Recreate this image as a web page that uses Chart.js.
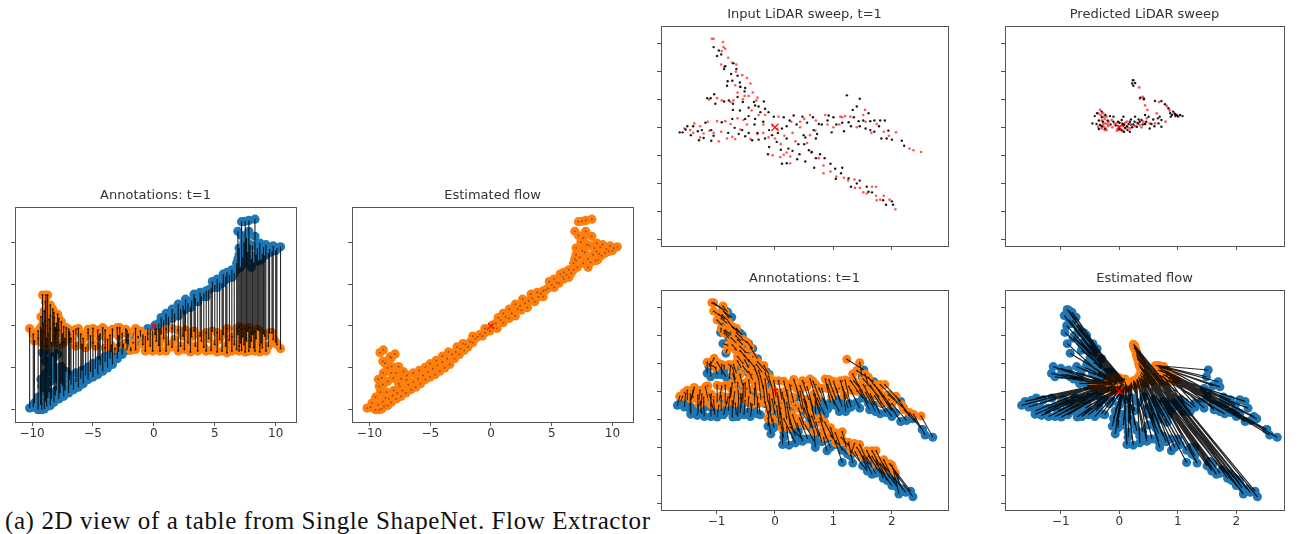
<!DOCTYPE html>
<html><head><meta charset="utf-8">
<script src="https://cdn.jsdelivr.net/npm/chart.js@4"></script>
<style>
html,body{margin:0;padding:0;background:#fff;width:1306px;height:534px;overflow:hidden}
canvas{position:absolute;filter:blur(0.45px)}
#cap{position:absolute;left:5px;top:507px;font:25px "Liberation Serif",serif;color:#111;white-space:nowrap;letter-spacing:.6px}
</style></head><body>
<div id="cap">(a) 2D view of a table from Single ShapeNet. Flow Extractor</div>
<script>
// ---- table view (left panels)
const tableX=[-10.2,-9.9,-9.5,-9.2,-9.0,-8.8,-8.5,-8.2,-7.8,-7.4,-7.0,-9.5,-9.1,-8.6,-8.0,-7.5,-6.6,-6.2,-5.8,-5.4,-5.0,-4.6,-4.2,-3.8,-3.4,-3.0,-6.4,-5.9,-5.4,-5.0,-4.5,-4.0,-3.5,-2.8,-9.27,-8.86,-9.14,-8.72,-8.3,-7.9,-8.18,-7.6,-7.2,-8.86,-8.04,-6.94,-2.6,-2.3,-2.2,-1.9,-1.5,-1.5,-1.1,-0.7,-0.5,-0.1,0.1,0.5,0.6,1.0,1.0,1.5,1.5,2.0,2.0,2.5,2.6,3.0,3.3,3.6,3.8,4.3,4.3,4.7,4.8,5.2,5.2,5.6,5.7,6.0,6.0,6.4,6.4,6.8,6.8,7.0,7.0,6.9,7.2,7.5,7.5,7.8,7.8,8.0,8.3,8.3,8.5,8.7,9.0,9.2,9.5,9.8,10.1,10.4,7.6,8.8,
-6.8,-6.4,-6.0,-5.6,-5.2,-4.8,-4.4,-4.0,-3.6,-3.2,-2.9,-2.5,-2.1,-1.7,-1.3,-.9,-.5,-.3,.2,.4,.8,1.2,1.7,2.2,2.4,2.8,3.1,3.4,3.9,4.1,4.5,5.0,5.4,5.9,6.2,6.6,
-9.8,-9.3,-8.9,-8.7,-8.4,-8.1,-7.7,-7.3,-9.2,-8.9,-9.0,-8.5,-8.2,-7.8,-7.4,-7.6,-6.9,-8.5,-8.9,-8.2,
6.9,7.1,7.3,7.4,7.7,7.9,8.0,8.2,8.4,8.6,8.9,9.1,9.4,9.7,10.0,8.1,7.2,7.6,8.7,7.0];
const tableBlueY=[-9.8,-9.7,-10.0,-10.0,-9.9,-9.6,-9.5,-9.1,-8.7,-8.4,-8.0,-8.5,-7.9,-7.9,-7.7,-7.2,-7.6,-7.3,-6.9,-6.4,-6.1,-5.8,-5.4,-5.0,-4.6,-3.9,-5.6,-5.3,-4.9,-4.5,-4.1,-3.6,-3.1,-2.5,-6.36,-2.86,-3.18,-4.45,-3.66,-3.34,-4.85,-4.85,-5.45,-5.6,-6.24,-6.44,-3.4,-2.1,-2.9,-2.5,-2.0,-1.2,-1.3,-1.2,-0.3,-0.6,0.1,-0.3,1.0,0.4,1.5,0.9,2.0,1.2,2.6,1.9,3.2,2.2,3.8,2.9,4.0,4.2,3.5,4.5,5.3,4.6,5.6,5.1,6.2,5.6,6.4,6.7,5.8,6.7,7.5,7.8,9.3,11.3,12.45,9.0,12.5,12.6,11.3,8.0,12.75,10.7,9.3,8.9,9.4,9.7,9.2,9.55,9.3,9.45,7.5,7.9,
-7.0,-6.7,-6.3,-5.9,-5.5,-5.1,-4.7,-4.3,-3.9,-3.4,-3.1,-2.7,-2.2,-1.9,-1.5,-1.0,-.8,-.4,-.2,.3,.7,1.1,1.5,2.0,2.4,2.7,3.0,3.3,3.5,3.9,4.3,4.9,5.2,5.9,6.1,6.3,
-9.2,-9.4,-9.0,-8.6,-8.7,-8.3,-8.0,-7.7,-7.2,-7.0,-6.2,-6.6,-5.6,-5.6,-6.3,-6.9,-5.9,-5.0,-4.2,-3.8,
8.0,7.0,8.2,10.0,8.8,9.7,7.0,7.6,8.5,7.8,8.6,8.4,8.7,8.9,9.0,9.6,10.8,10.5,9.9,8.5];
const tableOrangeY=[-0.3,-1.0,-1.5,-2.0,-0.8,-1.5,-0.3,-1.2,-0.5,-2.0,-0.4,-0.6,0.3,0.8,0.3,-1.0,-0.6,-0.3,-1.5,-0.4,-2.0,-0.5,-0.2,-1.6,-0.4,-0.2,-0.4,-2.2,-0.8,-0.3,-1.2,-0.5,-2.3,-0.2,1.1,3.7,3.7,3.7,2.0,1.4,1.0,0.5,-0.2,0.0,-0.5,-0.7,-0.9,-0.4,-0.6,-2.9,-0.3,-2.8,-0.6,-3.0,-0.9,-3.0,-1.0,-3.0,-0.9,-3.0,-0.4,-2.5,-0.3,-3.0,-0.5,-2.8,-0.5,-3.1,-0.6,-3.0,-1.2,-0.8,-3.0,-2.9,-0.6,-3.1,-0.8,-3.0,-1.0,-3.2,-0.3,-3.0,-1.3,-0.3,-2.8,-0.1,-3.0,-0.6,-2.9,-0.3,-3.1,-0.2,-3.0,-1.8,-0.7,-3.0,-0.4,-3.1,-0.9,-3.0,-0.8,-1.6,-2.2,-2.7,-1.5,-2.0,
-1.5,-2.4,-1.0,-2.6,-1.2,-2.4,-1.0,-2.6,-1.1,-2.7,-1.2,-2.2,-1.0,-2.0,-1.3,-2.2,-1.6,-2.4,-1.8,-2.3,-1.5,-2.2,-1.6,-2.4,-1.2,-2.0,-1.3,-2.4,-1.8,-2.5,-1.5,-2.2,-1.6,-2.4,-1.7,-2.2,
-1.8,-0.2,-2.4,-1.0,-2.0,-0.2,-2.2,-1.5,-0.5,.6,1.8,1.2,1.6,.9,-.1,-2.0,-1.0,2.5,2.9,.2,
-1.0,-2.0,-1.3,-2.2,-.6,-2.5,-.8,-2.6,-1.5,-.5,-2.6,-1.2,-2.4,-.8,-1.9,-1.0,-.4,-1.8,-2.3,-2.4];
// ---- input LiDAR sweep (black and red dots); together they are the orange cloud
const blackX=[-1.05,-.99,-.96,-.92,-.87,-.85,-.71,-.66,-.64,-.73,-.82,-.81,-.59,-.52,-.51,-.64,-1.04,-1.16,-1.10,-1.02,-.87,-.79,-.72,-.72,-.36,-.34,-.28,-.19,-.17,-.25,-.11,
-1.63,-1.58,-1.50,-1.53,-1.44,-1.32,-1.30,-1.22,-1.19,-1.09,-1.09,-.91,-.73,-.69,-.56,-.51,-.39,-.51,-.34,
-.28,-.17,-.05,.03,.12,-.02,.15,.32,.47,.49,.66,.75,.92,.72,.97,1.18,
1.23,1.45,1.40,1.33,1.26,1.43,1.51,1.63,1.70,1.80,1.88,1.63,1.94,1.91,2.17,2.21,
-.12,.23,.40,.58,.63,.77,.20,.12,.38,.52,.67,.95,1.03,1.13,1.04,1.26,1.30,1.57,1.66,2.0,2.02];
const blackY=[1.43,1.27,1.37,1.30,1.04,1.09,1.14,1.04,.92,.83,.74,.82,.72,.64,.70,.54,.59,.52,.52,.42,.46,.48,.42,.31,.45,.39,.37,.46,.33,.27,.27,
-.09,-.09,.02,-.04,-.14,-.07,-.23,-.19,.08,-.05,-.24,.09,.15,-.01,-.05,-.16,-.23,.15,.15,
-.22,-.2,-.14,-.26,-.02,.19,.18,.21,.19,-.14,-.05,.06,.21,-.12,-.09,-.07,
.57,.51,.37,.31,.09,.11,.12,.11,.12,.12,.12,-.05,-.06,-.2,-.24,-.33,
-.48,-.38,-.3,-.41,-.44,-.48,-.64,-.65,-.57,-.61,-.72,-.65,-.74,-.82,-.92,-.91,-1.06,-1.06,-1.16,-1.32,-1.38];
const redX=[-1.08,-.89,-.85,-.92,-.80,-.56,-.42,-.30,-.52,-1.13,-.99,-1.45,-1.28,-.96,-.42,.15,-.04,.26,.83,.95,1.36,1.45,1.51,1.73,1.74,1.86,2.06,1.96,2.5,2.37,2.3,2.07,1.86,1.74,1.54,1.12,.86,.43,.69,
-1.05,-.88,-.91,-.87,-.73,-.66,-.67,-.48,-.64,-.45,-.32,-.91,-.71,-.76,-1.38,-1.28,-1.22,-1.12,-.99,-.92,-.85,-.76,-.73,-.68,-.64,-.54,-.59,-.28,-.17,.06,.16,-.11,.6,1.2,1.29,1.51,.6,.43,-.04,.04,.09,.26,.83,1.37,1.57,1.66,1.73,1.8];
const redY=[1.58,1.52,1.40,1.12,1.24,.93,.78,.53,.56,.49,.52,-.05,-.18,-.25,-.21,-.49,-.5,-.64,-.82,-.79,-.93,-1.08,-1.16,-1.22,-1.30,-1.22,-1.46,-1.29,-.44,-.41,-.38,-.09,-.08,.06,.31,.19,.22,.1,-.06,
1.58,1.43,1.36,1.08,1.15,1.12,.99,.88,.62,.56,.48,.48,.48,.45,.07,.02,-.11,-.06,.11,-.08,.11,.06,-.17,-.21,.16,.13,-.04,.22,.22,.19,-.15,-.18,.22,.2,.19,.22,-.14,0,.03,-.03,-.53,-.52,-.68,-1.08,-1.18,-1.06,-1.06,-1.29];
const extraBlackX=[-.75,-.6,-.55,-.45,-.6,-.45,-.35,-.2,-.1,.05,.2,.1,.3,.42,.5,.7,.85,1.15,.25,.2,.37,.55,.65,.8,.9,1.05,1.0,1.15,1.3,1.45,1.55,1.7,1.78,1.82,2.0,1.35,1.6,-1.4,-1.25,-1.05,-.8,-.62,-.45,-.3,-.1,.52,.7,1.4,1.6,1.85,1.9,1.45];
const extraBlackY=[.95,.8,.45,.35,.3,.2,.05,.1,-.05,-.1,-.2,-.4,-.42,-.48,-.3,-.55,-.55,-.72,.12,.02,.05,.08,.18,.05,.12,.05,.18,.08,.02,.02,-.02,-.08,.02,-.2,-.22,.18,.25,.02,-.05,-.15,-.1,-.12,-.1,-.1,-.35,-.18,-.2,-1.0,-1.15,-1.3,-1.38,-.95];
const extraRedX=[-.6,-.55,-.68,-.38,-.4,-.48,-.3,-.2,.0,.1,.3,.35,.55,.62,.75,1.05,1.18,1.25,.9,1.0,1.1,1.4,1.55,1.65,1.95,1.15,-1.4,-1.15,-1.05,-.82,-1.55,.2,.5,.28,.7,-.2];
const extraRedY=[.72,.5,.75,.62,.3,.05,-.12,-.1,-.2,-.3,-.1,-.25,-.28,-.45,-.55,-.88,-.9,-.95,.05,.0,.05,.0,.1,-.1,-.15,.18,-.1,.1,-.1,-.2,-.02,-.45,.15,.1,.12,.05];
// ---- ground-truth positions paired, in order, with black, red and extra black
const planeX=[-.94,-.90,-.86,-.82,-.79,-.75,-.60,-.56,-.55,-.65,-.84,-.89,-.50,-.44,-.44,-.58,-1.13,-1.16,-1.10,-.99,-.87,-.73,-.68,-.68,-.30,-.28,-.22,-.10,-.10,-.20,-.05,
-1.67,-1.61,-1.50,-1.55,-1.44,-1.33,-1.33,-1.21,-1.15,-1.10,-1.10,-.95,-.76,-.72,-.60,-.53,-.42,-.50,-.32,
-.25,-.10,.0,.07,.18,.02,.22,.42,.58,.58,.78,.87,1.05,.85,1.10,1.21,
1.52,1.49,1.69,1.45,1.40,1.60,1.70,1.83,1.90,2.06,2.15,1.80,2.20,2.06,2.35,2.52,
-.07,.30,.50,.67,.75,.88,.24,.13,.47,.67,.69,1.04,1.15,1.29,1.15,1.33,1.58,1.75,1.92,2.18,2.12,
-.89,-.81,-.74,-.93,-.70,-.45,-.30,-.15,-.45,-1.0,-.84,-1.44,-1.25,-.99,-.40,.35,-.02,.47,.89,1.24,1.29,1.58,1.66,1.85,2.0,2.06,2.36,2.32,2.70,2.57,2.52,2.30,2.15,2.0,1.60,1.25,.95,.55,.7,
-.86,-.78,-.80,-.78,-.63,-.56,-.58,-.38,-.55,-.36,-.22,-.92,-.66,-.78,-1.42,-1.30,-1.22,-1.05,-.99,-.92,-.85,-.80,-.72,-.66,-.62,-.55,-.58,-.24,-.12,.12,.2,-.05,.72,1.3,1.5,1.78,.68,.5,.0,.1,.15,.35,.95,1.5,1.72,1.88,1.96,2.1,
-.66,-.5,-.46,-.38,-.55,-.42,-.35,-.17,-.07,.09,.26,.15,.4,.56,.62,.8,1.0,1.22,.32,.26,.46,.65,.78,.9,1.02,1.15,1.12,1.28,1.45,1.62,1.72,1.9,1.98,2.0,2.25,1.5,1.72,-1.46,-1.27,-1.03,-.88,-.64,-.47,-.3,-.12,.6,.82,1.55,1.8,2.05,2.24,1.6];
const planeY=[1.35,1.17,1.28,1.21,.95,1.0,1.04,.95,.83,.73,.68,.85,.60,.52,.68,.42,.44,.32,.26,.30,.38,.44,.20,.14,.30,.22,.16,.30,.15,.05,.05,
-.25,-.18,-.16,-.28,-.41,-.30,-.43,-.45,-.12,-.28,-.45,-.15,-.12,-.30,-.39,-.42,-.45,-.10,-.10,
-.42,-.48,-.40,-.60,-.30,-.10,-.12,-.10,-.15,-.45,-.35,-.25,-.15,-.42,-.36,-.36,
.38,.26,.17,.05,-.20,-.22,-.25,-.22,-.15,-.15,-.18,-.40,-.30,-.39,-.49,-.68,
-.76,-.70,-.60,-.75,-.80,-.85,-.96,-.95,-.89,-.89,-1.0,-.95,-1.05,-1.0,-1.27,-1.28,-1.42,-1.40,-1.59,-1.74,-1.83,
1.46,1.41,1.32,1.05,1.11,.85,.58,.35,.42,.41,.26,-.35,-.40,-.46,-.35,-.92,-.65,-.85,-1.06,-1.12,-1.15,-1.38,-1.48,-1.55,-1.68,-1.65,-1.88,-1.78,-.82,-.78,-.68,-.45,-.54,-.35,.10,-.30,-.20,-.25,-.4,
1.44,1.30,1.26,.98,1.05,1.0,.90,.76,.50,.44,.34,.30,.32,.22,-.12,-.15,-.30,-.35,-.20,-.35,-.22,-.35,-.46,-.42,-.15,-.22,-.30,-.15,-.18,-.15,-.5,-.55,-.2,-.28,-.12,-.10,-.5,-.4,-.25,-.4,-.82,-.8,-1.0,-1.33,-1.46,-1.48,-1.54,-1.72,
.86,.7,.33,.2,.1,-.05,-.25,-.22,-.35,-.5,-.6,-.72,-.72,-.85,-.65,-.9,-.85,-1.0,-.2,-.35,-.32,-.3,-.18,-.32,-.25,-.28,-.2,-.22,-.3,-.33,-.36,-.38,-.25,-.45,-.52,.0,.08,-.25,-.38,-.42,-.42,-.45,-.38,-.4,-.62,-.55,-.55,-1.25,-1.45,-1.58,-1.8,-1.3];
// ---- estimated flow targets, same order as planeX/planeY
const flowX=[-.10,-.05,-.12,-.02,.02,-.08,-.15,.0,-.05,.03,-.12,-.18,.06,-.02,.05,-.1,-.25,-.3,-.2,-.15,-.12,-.08,-.22,-.15,-.05,-.1,.02,.06,.1,-.05,.08,
-.45,-.40,-.35,-.38,-.3,-.28,-.25,-.2,-.32,-.18,-.12,-.15,-.1,-.05,-.02,.0,.03,-.22,-.27,
.05,.1,.08,.12,.18,.03,.2,.3,.42,.38,.47,.5,.62,.55,.66,.72,
.62,.68,.72,.66,.7,.75,.8,.82,.87,.9,.95,.78,.98,.88,.92,.85,
.05,.12,.2,.3,.35,.38,.1,.06,.24,.3,.33,.4,.42,.45,.36,.42,.38,.3,.28,.25,.27,
-.05,-.02,.0,-.08,.02,.05,.08,.1,.02,-.15,-.12,-.4,-.3,-.15,.0,.3,.02,.32,.42,.45,.48,.35,.33,.3,.27,.28,.24,.26,.95,.92,.88,.8,.75,.7,.64,.6,.55,.35,.45,
-.04,-.06,.01,-.1,.04,-.03,.03,.07,-.04,.05,.09,-.2,-.12,-.18,-.42,-.36,-.3,-.22,-.25,-.2,-.17,-.14,-.08,-.05,-.12,-.08,-.02,-.02,.03,.12,.15,.06,.6,.77,.83,.85,.48,.4,.02,.1,.2,.28,.38,.36,.33,.31,.29,.26,
-.02,.03,.0,-.02,-.1,-.06,.0,.04,.1,.13,.2,.16,.26,.3,.35,.36,.4,.44,.24,.18,.36,.52,.66,.7,.78,.74,.8,.86,.9,.82,.94,.72,.76,.88,.92,.68,.65,-.44,-.34,-.26,-.16,-.04,-.06,.0,.04,.42,.44,.37,.34,.29,.25,.4];
const flowY=[.22,.20,.24,.18,.21,.19,.23,.17,.2,.16,.22,.18,.14,.21,.18,.2,.12,.11,.13,.14,.12,.16,.1,.13,.15,.17,.2,.17,.22,.14,.13,
.09,.1,.11,.08,.08,.1,.05,.06,.1,.08,.03,.09,.05,.02,.08,.03,.05,.11,.09,
.03,.1,.05,.06,.12,.15,.16,.2,.25,.2,.15,.22,.24,.18,.22,.2,
.46,.46,.44,.38,.28,.35,.32,.3,.3,.25,.22,.22,.2,.18,.26,.2,
.05,.12,.15,.18,.2,.22,.17,.13,.19,.22,.26,.28,.34,.37,.3,.4,.5,.62,.72,.8,.76,
.22,.25,.2,.19,.23,.18,.16,.2,.14,.14,.11,.1,.08,.04,.06,.12,.04,.2,.3,.38,.33,.55,.6,.7,.78,.74,.84,.82,.22,.25,.28,.34,.3,.38,.46,.25,.2,.18,.15,
.21,.2,.22,.18,.2,.24,.19,.2,.15,.17,.18,.15,.14,.12,.1,.09,.07,.08,.1,.04,.06,.07,.03,.05,.1,.08,.06,.1,.12,.12,.1,.05,.22,.18,.25,.3,.18,.15,.08,.08,.1,.16,.2,.42,.5,.58,.66,.8,
.2,.17,.16,.13,.12,.1,.08,.09,.1,.06,.14,.1,.18,.2,.16,.24,.22,.3,.14,.12,.18,.2,.2,.22,.24,.28,.3,.26,.22,.36,.2,.4,.44,.24,.2,.42,.45,.09,.1,.06,.03,.02,.08,.03,.03,.2,.17,.34,.45,.7,.78,.3];
// ---- predicted LiDAR sweep
const predBlackX=[.24,.27,.24,.36,.61,.72,.78,.84,.92,.98,1.04,1.08,.87,.69,.72,.67,.72,.52,.58,.5,.44,.38,.32,.27,.18,.13,.07,.04,-.02,-.1,-.16,-.24,-.3,-.38,-.39,-.46,-.33,-.24,.04,.14,.3,.44,.96,.88,.24,.08,.0,.2,.35,
-.35,-.3,-.28,-.2,-.15,-.1,-.06,.0,.06,.1,.16,.22,.26,.33,.4,.46,.55,.6,.66,.95,1.0,.9,.22,.42,-.42,-.3,-.35,.08,.18];
const predBlackY=[.84,.79,.74,.53,.47,.47,.41,.34,.28,.22,.22,.2,.25,.19,.13,.07,.01,-.02,.14,.19,.22,.13,.07,.19,.1,.02,.19,.13,.1,.19,.2,.22,.28,.25,.06,.07,.04,-.02,-.05,-.05,.01,.06,.2,.19,.05,.04,-.03,.14,.1,
.12,.18,.1,.12,.05,.1,.03,.08,.06,-.01,.06,.0,.1,.14,.05,.1,.06,.02,.16,.24,.2,.22,.78,.5,.2,.02,-.03,-.08,-.08];
const predRedX=[.23,.34,.35,.4,.44,.48,.68,.81,.94,1.01,.79,.64,.47,.41,.35,.27,.18,.1,.02,-.02,.04,.13,-.05,-.13,-.22,-.2,-.24,-.27,-.33,-.36,-.28,-.36,-.27,-.22,-.19,.52,.61,.0,.06,.2,
-.3,-.25,-.32,-.18,-.3,-.25,-.12,-.04,.0,.08,.06,.14,.2,.3,.38,.44,.96,.86,.42,-.28,.1,-.08];
const predRedY=[.84,.71,.51,.54,.39,.31,.45,.38,.25,.19,.1,.25,.16,.1,.04,.02,-.02,-.02,-.04,-.02,.07,.1,.07,.13,.19,.06,.07,.19,.31,.25,.25,.01,.01,-.05,.02,.07,.07,-.04,.02,.04,
.12,.15,.22,.1,-.02,-.05,.0,-.06,.02,.05,-.07,.0,.05,.08,.0,.06,.22,.3,.52,.05,.08,.06];
// ---- ticks
const tableXTicks=[-10,-5,0,5,10], tableYTicks=[-10,-5,0,5,10];
const planeXTicks=[-1,0,1,2], planeYTicks=[-2,-1.5,-1,-.5,0,.5,1,1.5];
const titles=["Annotations: t=1","Estimated flow","Input LiDAR sweep, t=1","Predicted LiDAR sweep","Annotations: t=1","Estimated flow"];

const BLUE='#1f77b4',ORANGE='#ff7f0e';
const pts=(xs,ys)=>xs.map((x,i)=>({x,y:ys[i]}));
const segs=(ax,ay,bx,by)=>{const o=[];const n=Math.min(ax.length,bx.length);for(let i=0;i<n;i++){o.push({x:ax[i],y:ay[i]},{x:bx[i],y:by[i]},{x:ax[i],y:null});}return o;};
const marker=(data,color,r)=>({data,pointBackgroundColor:color,pointBorderWidth:0,pointRadius:r,showLine:false});
const lines=(data,w,a)=>({data,showLine:true,borderColor:`rgba(0,0,0,${a})`,borderWidth:w,pointRadius:0,spanGaps:false});
const cross=(r)=>({data:[{x:0,y:0}],pointStyle:'crossRot',pointRadius:r,pointBorderColor:'#f00',pointBorderWidth:1.2,showLine:false});

const frame={id:'frame',afterDatasetsDraw(c){const a=c.chartArea,g=c.ctx;g.save();g.strokeStyle='#555';g.lineWidth=1;
  g.strokeRect(Math.round(a.left)+.5,Math.round(a.top)+.5,Math.round(a.width),Math.round(a.height));g.restore();}};

function panel(p){
  const ML=22,MR=22,MT=22,MB=24;
  const cv=document.createElement('canvas');
  cv.width=p.w+ML+MR;cv.height=p.h+MT+MB;
  cv.style.left=(p.l-ML)+'px';cv.style.top=(p.t-MT)+'px';
  document.body.appendChild(cv);
  const axis=(min,max,ticks,show,size,k)=>({type:'linear',min,max,
    afterBuildTicks:s=>{s.ticks=ticks.map(value=>({value}));},
    afterFit:s=>{s[k]=size;},
    grid:{display:true,drawOnChartArea:false,drawTicks:true,tickLength:4,color:'#555',lineWidth:1},
    border:{display:true,color:'#555',width:1},
    ticks:{autoSkip:false,maxRotation:0,padding:1,color:'#333',font:{family:'"DejaVu Sans"',size:12},
      callback:v=>show?String(v).replace('-','\u2212'):''}});
  new Chart(cv,{type:'scatter',data:{datasets:p.sets},plugins:[frame],options:{
    responsive:false,animation:false,
    layout:{padding:0},
    plugins:{legend:{display:false},tooltip:{enabled:false},
      title:{display:true,text:p.title,color:'#333',font:{family:'"DejaVu Sans"',size:13,weight:'normal'},padding:{top:3,bottom:3.4}}},
    scales:{x:axis(p.x[0],p.x[1],p.xt,p.xl,MB,'height'),y:axis(p.y[0],p.y[1],p.yt,false,ML,'width'),
      rightSpace:{type:'linear',position:'right',display:true,grid:{display:false},border:{display:false},ticks:{display:false},afterFit:s=>{s.width=MR;}}}}});
}
const tableBlue=pts(tableX,tableBlueY),tableOrange=pts(tableX,tableOrangeY);
const planeBlue=pts(planeX,planeY);
const pairedX=blackX.concat(redX,extraBlackX),pairedY=blackY.concat(redY,extraBlackY);
const orangeCloud=pts(pairedX.concat(extraRedX),pairedY.concat(extraRedY));
const flow=pts(flowX,flowY);
const PY=[-2.116,1.806],TY=[-11.46,14.2];

panel({l:15,t:207,w:281,h:215,title:titles[0],x:[-11.4,11.67],y:TY,xt:tableXTicks,yt:tableYTicks,xl:true,sets:[
  cross(3.5),marker(tableOrange,'rgba(0,0,0,.75)',1),
  lines(segs(tableX,tableBlueY,tableX,tableOrangeY),1.1,.85),
  marker(tableOrange,ORANGE,4.6),marker(tableBlue,BLUE,4.6)]});
panel({l:352,t:207,w:281,h:215,title:titles[1],x:[-11.44,11.69],y:TY,xt:tableXTicks,yt:tableYTicks,xl:true,sets:[
  cross(4),marker(tableBlue,'rgba(60,30,0,.55)',.9),
  marker(tableBlue,ORANGE,4.6)]});
panel({l:661,t:26,w:287,h:220,title:titles[2],x:[-1.95,2.96],y:PY,xt:planeXTicks,yt:planeYTicks,xl:false,sets:[
  cross(5),marker(pts(blackX.concat(extraBlackX),blackY.concat(extraBlackY)),'rgba(0,0,0,.9)',1.2),
  marker(pts(redX.concat(extraRedX),redY.concat(extraRedY)),'rgba(255,30,30,.75)',1.3)]});
panel({l:1005,t:26,w:279,h:220,title:titles[3],x:[-1.954,2.815],y:PY,xt:planeXTicks,yt:planeYTicks,xl:false,sets:[
  cross(3.5),marker(pts(predBlackX,predBlackY),'rgba(0,0,0,.9)',1.2),marker(pts(predRedX,predRedY),'rgba(255,30,30,.75)',1.4)]});
panel({l:661,t:290,w:287,h:220,title:titles[4],x:[-1.95,2.96],y:PY,xt:planeXTicks,yt:planeYTicks,xl:true,sets:[
  cross(4),marker(orangeCloud,'rgba(0,0,0,.6)',.9),
  lines(segs(planeX,planeY,pairedX,pairedY),1.1,.8),
  marker(orangeCloud,ORANGE,4.5),marker(planeBlue,BLUE,4.5)]});
panel({l:1005,t:290,w:279,h:220,title:titles[5],x:[-1.954,2.815],y:PY,xt:planeXTicks,yt:planeYTicks,xl:true,sets:[
  cross(4.5),lines(segs(planeX,planeY,flowX,flowY),1.2,.85),
  marker(flow,ORANGE,4.5),marker(planeBlue,BLUE,4.5)]});
</script>
</body></html>
